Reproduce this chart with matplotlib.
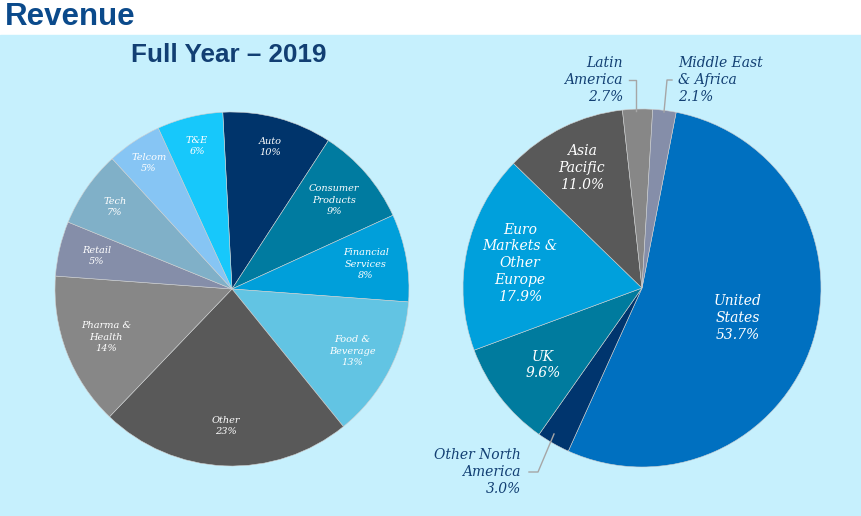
import matplotlib
matplotlib.use("Agg")
import matplotlib.pyplot as plt
from matplotlib.patches import Rectangle

W, H = 862, 516

# ---- data ----
ind_labels = ["Auto", "Consumer\nProducts", "Financial\nServices", "Food &\nBeverage", "Other",
              "Pharma &\nHealth", "Retail", "Tech", "Telcom", "T&E"]
ind_values = [10, 9, 8, 13, 23, 14, 5, 7, 5, 6]
ind_colors = ["#00346b", "#007ba0", "#009fda", "#62c4e3", "#595959",
              "#878787", "#858ea9", "#80b0c8", "#86c5f4", "#17c8fb"]

geo_labels = ["United\nStates", "Other North\nAmerica", "UK", "Euro\nMarkets &\nOther\nEurope",
              "Asia\nPacific", "Latin\nAmerica", "Middle East\n& Africa"]
geo_values = [53.7, 3.0, 9.6, 17.9, 11.0, 2.7, 2.1]
geo_colors = ["#0070c0", "#00356e", "#007b9e", "#00a0dc", "#595959", "#878787", "#858ea9"]

fig = plt.figure(figsize=(W / 100, H / 100), dpi=100)
fig.patch.set_facecolor("white")
ax = fig.add_axes([0, 0, 1, 1])
ax.set_xlim(0, W)
ax.set_ylim(0, H)
ax.set_aspect("equal")
ax.axis("off")

def Y(y):
    return H - y

# background panel
ax.add_patch(Rectangle((0, 0), W, Y(35), color="#c6f0fd", zorder=0))

# headers
ax.text(5, Y(17), "Revenue", fontsize=22.5, fontweight="bold", color="#0b4a8b",
        family="Liberation Sans", ha="left", va="center")
ax.text(229, Y(55), "Full Year \u2013 2019", fontsize=18.8, fontweight="bold", color="#123f73",
        family="Liberation Sans", ha="center", va="center")

serif = "DejaVu Serif"

# left pie
ax.pie(ind_values, colors=ind_colors, startangle=93, counterclock=False,
       center=(232, Y(289)), radius=177, frame=True,
       wedgeprops=dict(linewidth=0.4, edgecolor="#d0d0d0"))

ind_pos = [(270, 147), (334, 200), (366, 264), (352, 351), (226, 426),
           (106, 337), (97, 256), (115, 207), (149, 163), (197, 146)]
for lab, v, (x, y) in zip(ind_labels, ind_values, ind_pos):
    ax.text(x, Y(y), f"{lab}\n{v}%", fontsize=7, style="italic", family=serif,
            color="white", ha="center", va="center", linespacing=1.35)

# right pie
ax.pie(geo_values, colors=geo_colors, startangle=79, counterclock=False,
       center=(642, Y(288)), radius=179, frame=True,
       wedgeprops=dict(linewidth=0.4, edgecolor="#d0d0d0"))

inner_pos = {0: (738, 318), 2: (543, 365), 3: (520, 263), 4: (582, 168)}
for i, (x, y) in inner_pos.items():
    ax.text(x, Y(y), f"{geo_labels[i]}\n{geo_values[i]:.1f}%", fontsize=10, style="italic",
            family=serif, color="white", ha="center", va="center", linespacing=1.25)

navy = "#123f73"
lead = "#a6a6a6"
# Latin America
ax.text(623, Y(80), f"{geo_labels[5]}\n{geo_values[5]:.1f}%", fontsize=10, style="italic",
        family=serif, color=navy, ha="right", va="center", linespacing=1.25)
ax.plot([629, 636, 636], [Y(80), Y(80), Y(111)], color=lead, lw=1)
# Middle East & Africa
ax.text(678, Y(80), f"{geo_labels[6]}\n{geo_values[6]:.1f}%", fontsize=10, style="italic",
        family=serif, color=navy, ha="left", va="center", linespacing=1.25)
ax.plot([672, 667, 664], [Y(80), Y(80), Y(112)], color=lead, lw=1)
# Other North America
ax.text(521, Y(472), f"{geo_labels[1]}\n{geo_values[1]:.1f}%", fontsize=10, style="italic",
        family=serif, color=navy, ha="right", va="center", linespacing=1.25)
ax.plot([529, 538, 554], [Y(472), Y(472), Y(434)], color=lead, lw=1)

ax.set_xlim(0, W)
ax.set_ylim(0, H)
ax.axis("off")
fig.savefig("out.png", dpi=100)
